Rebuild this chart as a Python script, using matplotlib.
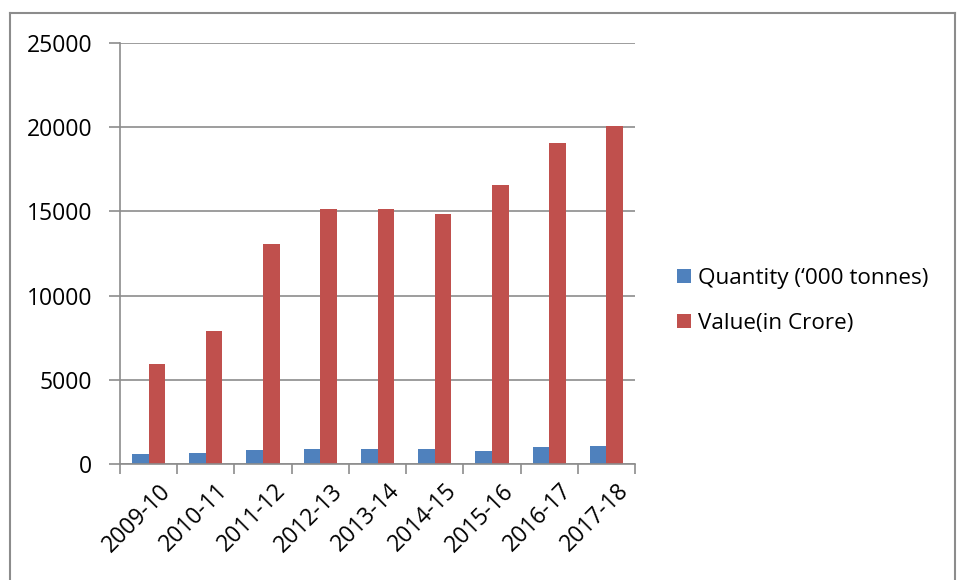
import numpy as np
import matplotlib.pyplot as plt
from matplotlib.lines import Line2D

years = ['2009-10', '2010-11', '2011-12', '2012-13', '2013-14',
         '2014-15', '2015-16', '2016-17', '2017-18']
quantity = [570, 650, 835, 900, 880, 900, 795, 980, 1080]
value = [5950, 7880, 13090, 15160, 15120, 14820, 16590, 19070, 20060]
yticks = [0, 5000, 10000, 15000, 20000, 25000]

plt.rcParams['font.family'] = ['Open Sans', 'DejaVu Sans']
grid_col = '#8c8c8c'

fig = plt.figure(figsize=(9.58, 5.8), dpi=100)
ax = fig.add_axes([120/958, 116/580, 515/958, 421/580])

x = np.arange(len(years))
w = 0.29
ax.bar(x - w/2, quantity, w, color='#4F81BD', label="Quantity (\u2018000 tonnes)")
ax.bar(x + w/2, value, w, color='#C0504D', label='Value(in Crore)')

ax.set_xlim(-0.5, len(years) - 0.5)
ax.set_ylim(0, 25000)
ax.set_yticks(yticks)
ax.set_yticklabels([str(v) for v in yticks], fontsize=16.5)
ax.yaxis.grid(True, color=grid_col, linewidth=1.2)
ax.set_axisbelow(True)

# category ticks sit on group boundaries, labels in the middle
ax.set_xticks(np.arange(len(years) + 1) - 0.5)
ax.set_xticklabels([])
ax.tick_params(axis='x', length=7, color=grid_col, width=1.2)
ax.tick_params(axis='y', length=8, color=grid_col, width=1.2, pad=12)
for i, yr in enumerate(years):
    ax.text(i + 0.18, -900, yr, rotation=45, ha='right', va='top',
            rotation_mode='anchor', fontsize=16.5)

for s in ['top', 'right']:
    ax.spines[s].set_visible(False)
for s in ['left', 'bottom']:
    ax.spines[s].set_color(grid_col)
    ax.spines[s].set_linewidth(1.2)

fig.legend(*ax.get_legend_handles_labels(), loc='center left',
           bbox_to_anchor=(657/958, 1 - 301/580), frameon=False,
           fontsize=16.2, handlelength=0.6, handleheight=0.6, handletextpad=0.3,
           labelspacing=1.05)

# outer chart border
bx0, by0, bx1 = 10/958, 1 - 13/580, 955/958
for xs, ys in [([bx0, bx0], [0, by0]), ([bx0, bx1], [by0, by0]), ([bx1, bx1], [by0, 0])]:
    fig.add_artist(Line2D(xs, ys, color=grid_col, linewidth=1.5, transform=fig.transFigure))

fig.savefig('out.png', dpi=100)
